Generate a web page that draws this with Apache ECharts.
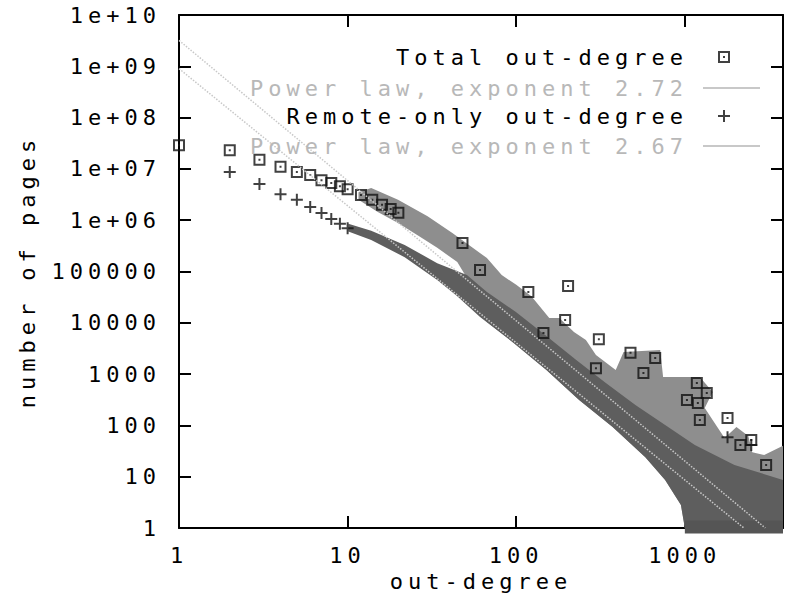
<!DOCTYPE html>
<html>
<head>
<meta charset="utf-8">
<script src="https://cdn.jsdelivr.net/npm/echarts@6/dist/echarts.min.js"></script>
<style>
  html, body { margin: 0; padding: 0; background: #fff; }
  #chart { width: 786px; height: 600px; letter-spacing: 5px; }
</style>
</head>
<body>
<div id="chart"></div>
<script>
// tick labels
const xTickLabels = ['1', '10', '100', '1000'];
const yTickLabels = ['1', '10', '100', '1000', '10000', '100000', '1e+06', '1e+07', '1e+08', '1e+09', '1e+10'];

// Total out-degree: separate squares (low degrees + outliers)
const totalPoints = [
  [1, 2.9e7], [2, 2.3e7], [3, 1.5e7], [4, 1.1e7], [5, 8.7e6], [6, 7.6e6], [7, 6e6],
  [8, 5.3e6], [9, 4.6e6], [10, 4e6], [12, 3.1e6], [14, 2.5e6], [16, 2e6], [18, 1.66e6], [20, 1.4e6],
  [48, 3.6e5], [61, 1.07e5], [118, 4.0e4], [203, 5.2e4], [195, 1.13e4], [145, 6.3e3],
  [309, 4.8e3], [297, 1.3e3], [476, 2.6e3], [667, 2.06e3], [568, 1.05e3],
  [1178, 670], [1349, 428], [1029, 313], [1194, 273], [1227, 127], [1791, 139],
  [2135, 41.5], [2477, 52], [3034, 17]
];
// Remote-only out-degree: separate crosses
const remotePoints = [
  [2, 8.7e6], [3, 5.1e6], [4, 3.2e6], [5, 2.5e6], [6, 1.8e6], [7, 1.38e6],
  [8, 1.05e6], [9, 8.5e5], [10, 7e5], [1791, 59], [2477, 41.5]
];

// dense regions where the markers overlap (outline)
const totalCloud = [
  [11.6, 3.5e6], [13.8, 4.25e6], [19.9, 2.5e6], [29.8, 1.2e6], [41.8, 5.6e5], [67, 1.83e5],
  [82, 8.5e4], [100, 5.5e4], [123, 3.3e4], [157, 1.24e4], [180, 1.24e4], [220, 6.6e3],
  [259, 4.6e3], [297, 2.35e3], [389, 1.2e3], [433, 2.7e3], [714, 2.95e3], [743, 877],
  [1227, 877], [1463, 448], [1312, 218], [1543, 97], [1720, 57], [2023, 93], [2379, 62],
  [2510, 30], [2953, 26.5], [3820, 40], [3820, 1], [1000, 1],
  [948, 2.8], [764, 8.6], [583, 24], [373, 93], [236, 313], [151, 1.2e3], [97, 4.0e3],
  [67, 1.04e4], [55, 2.8e4], [51, 7.5e4], [44.7, 1.53e5], [34, 2.9e5], [27, 4.7e5],
  [19.9, 8.8e5], [15.1, 1.45e6], [11.6, 2.5e6]
];
const remoteCloud = [
  [10.1, 8.5e5], [13.8, 6.2e5], [21.8, 3.3e5], [34, 1.45e5], [51, 8.5e4], [67, 4e4],
  [100, 1.6e4], [151, 5.5e3], [226, 1.9e3], [340, 670], [509, 250], [764, 102],
  [1146, 41.5], [1969, 17], [3820, 8.6], [3820, 1], [1000, 1],
  [948, 2.8], [764, 8.6], [583, 24], [373, 93], [236, 313], [151, 1.2e3], [97, 4.0e3],
  [61, 1.3e4], [44.7, 3.3e4], [34, 6.8e4], [21.8, 1.9e5], [13.8, 4.1e5], [10.1, 6.0e5]
];
const bottomRow = [[1000, 1.4], [3820, 1.4], [3820, 0.78], [1000, 0.78]];

// fitted power laws (end points)
const powerLaw272 = [[1, 3.2e9], [3000, 1]];
const powerLaw267 = [[1, 9e8], [2240, 1]];

const squareIcon = 'path://M0,0H12V12H0Z M2,2V10H10V2Z M5,5H7V7H5Z';
const plusIcon = 'path://M5,0H7V5H12V7H7V12H5V7H0V5H5Z';
const font = 'DejaVu Sans Mono';

function decadeLabel(labels) {
  return function (v) {
    const k = Math.log10(v);
    const r = Math.round(k);
    return Math.abs(k - r) < 1e-6 && labels[r] !== undefined ? labels[r] : '';
  };
}

function polygon(points, color) {
  return function (params, api) {
    if (params.dataIndex !== 0) return null;
    return {
      type: 'polygon',
      shape: { points: points.map(p => api.coord(p)) },
      style: { fill: color }
    };
  };
}

const tick = { inside: true, length: 12, interval: 0, lineStyle: { color: '#000', width: 2 } };
const line = { lineStyle: { color: '#000', width: 2 } };
const legendText = { color: '#000', fontFamily: font, fontSize: 22, padding: [0, 25, 0, 0] };
const greyText = { color: '#b8b8b8', fontFamily: font, fontSize: 22, padding: [0, 10, 0, 0] };

const chart = echarts.init(document.getElementById('chart'), null, { renderer: 'svg' });
chart.setOption({
  animation: false,
  backgroundColor: '#fff',
  textStyle: { fontFamily: font },
  grid: { left: 179, top: 15, width: 610, height: 513 },
  xAxis: [{
    type: 'log', min: 1, max: 3820, splitNumber: 4,
    axisLine: line, axisTick: tick, splitLine: { show: false },
    axisLabel: { color: '#000', fontFamily: font, fontSize: 22, margin: 16, interval: 0, formatter: decadeLabel(xTickLabels) },
    name: 'out-degree', nameLocation: 'middle', nameGap: 39,
    nameTextStyle: { color: '#000', fontFamily: font, fontSize: 22 }
  }, {
    type: 'log', min: 1, max: 3820, splitNumber: 4, position: 'top',
    axisLine: line, axisTick: tick, splitLine: { show: false }, axisLabel: { show: false }
  }],
  yAxis: [{
    type: 'log', min: 1, max: 1e10, interval: 1,
    axisLine: line, axisTick: tick, splitLine: { show: false },
    axisLabel: { color: '#000', fontFamily: font, fontSize: 22, margin: 18, interval: 0, formatter: decadeLabel(yTickLabels) },
    name: 'number of pages', nameLocation: 'middle', nameGap: 141,
    nameTextStyle: { color: '#000', fontFamily: font, fontSize: 22 }
  }, {
    type: 'log', min: 1, max: 1e10, interval: 1, position: 'right',
    axisLine: line, axisTick: tick, splitLine: { show: false }, axisLabel: { show: false }
  }],
  legend: [
    { data: [{ name: 'Total out-degree', icon: squareIcon }], align: 'right', right: 56, top: 46, padding: 0,
      itemWidth: 12, itemHeight: 12, textStyle: legendText },
    { data: [{ name: 'Power law, exponent 2.72', icon: 'rect' }], align: 'right', right: 26, top: 77, padding: 0,
      itemWidth: 57, itemHeight: 2, symbolKeepAspect: false, itemStyle: { color: '#c8c8c8' }, textStyle: greyText },
    { data: [{ name: 'Remote-only out-degree', icon: plusIcon }], align: 'right', right: 56, top: 105, padding: 0,
      itemWidth: 12, itemHeight: 12, textStyle: legendText },
    { data: [{ name: 'Power law, exponent 2.67', icon: 'rect' }], align: 'right', right: 26, top: 135, padding: 0,
      itemWidth: 57, itemHeight: 2, symbolKeepAspect: false, itemStyle: { color: '#c8c8c8' }, textStyle: greyText }
  ],
  series: [
    { type: 'custom', name: 'total cloud', data: totalCloud, renderItem: polygon(totalCloud, '#8e8e8e'), clip: false, z: 1, silent: true },
    { type: 'custom', name: 'remote cloud', data: remoteCloud, renderItem: polygon(remoteCloud, '#5e5e5e'), clip: false, z: 1, silent: true },
    { type: 'custom', name: 'bottom row', data: bottomRow, renderItem: polygon(bottomRow, '#555'), clip: false, z: 1, silent: true },
    { type: 'scatter', name: 'Total out-degree', data: totalPoints, symbol: squareIcon, symbolSize: 12,
      itemStyle: { color: '#111' }, z: 2 },
    { type: 'scatter', name: 'Remote-only out-degree', data: remotePoints, symbol: plusIcon, symbolSize: 12,
      itemStyle: { color: '#111' }, z: 2 },
    { type: 'line', name: 'Power law, exponent 2.72', data: powerLaw272, symbol: 'none',
      itemStyle: { color: '#c8c8c8' }, lineStyle: { color: '#c8c8c8', width: 1.5, type: 'dotted' }, z: 3 },
    { type: 'line', name: 'Power law, exponent 2.67', data: powerLaw267, symbol: 'none',
      itemStyle: { color: '#c8c8c8' }, lineStyle: { color: '#c8c8c8', width: 1.5, type: 'dotted' }, z: 3 }
  ]
});
</script>
</body>
</html>
